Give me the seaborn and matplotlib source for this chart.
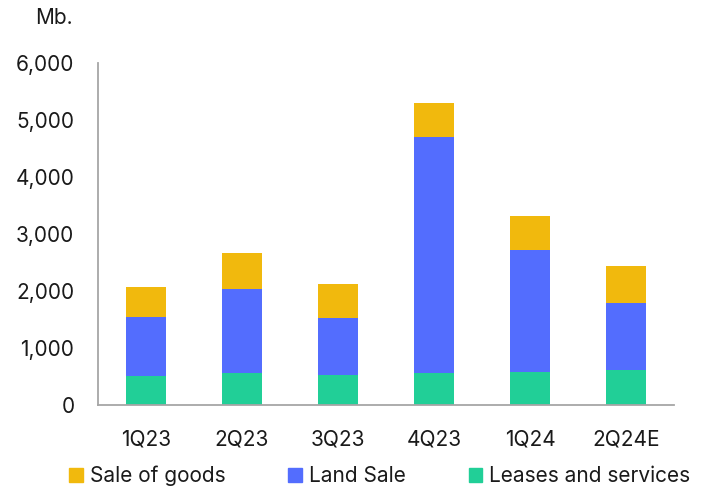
import numpy as np
import pandas as pd
import matplotlib
matplotlib.use("Agg")
import matplotlib.pyplot as plt
import seaborn as sns
from matplotlib.patches import Patch

quarters = ["1Q23", "2Q23", "3Q23", "4Q23", "1Q24", "2Q24E"]
leases_services = [500, 560, 525, 560, 585, 610]
land_sale = [1045, 1465, 1005, 4135, 2125, 1180]
sale_of_goods = [520, 635, 590, 590, 600, 640]

yticks = [0, 1000, 2000, 3000, 4000, 5000, 6000]

c_goods = "#F1B90D"
c_land = "#536DFE"
c_leases = "#21CF97"

sns.set_theme(style="white")
plt.rcParams["font.family"] = ["Inter", "DejaVu Sans"]

df = pd.DataFrame({
    "quarter": quarters,
    "leases": leases_services,
    "land": land_sale,
    "goods": sale_of_goods,
})
df["top_land"] = df["leases"] + df["land"]
df["top_goods"] = df["top_land"] + df["goods"]

fig = plt.figure(figsize=(7.03, 4.91), dpi=100)
ax = fig.add_axes([0.1394, 0.1752, 0.8193, 0.6975])

# stack by drawing cumulative totals back to front
for col, color in [("top_goods", c_goods), ("top_land", c_land), ("leases", c_leases)]:
    sns.barplot(data=df, x="quarter", y=col, color=color, width=0.41,
                linewidth=0, saturation=1, ax=ax, order=quarters)

ax.set_ylim(0, 6000)
ax.set_xlim(-0.5, len(quarters) - 0.5)
ax.set_yticks(yticks)
ax.set_yticklabels([f"{v:,}" for v in yticks])
ax.set_xlabel("")
ax.set_ylabel("")
ax.tick_params(axis="y", length=0, pad=17, labelsize=15, colors="#1a1a1a")
ax.tick_params(axis="x", length=0, pad=18, labelsize=15, colors="#1a1a1a")

for side in ["top", "right"]:
    ax.spines[side].set_visible(False)
for side in ["left", "bottom"]:
    ax.spines[side].set_color("#a6a6a6")
    ax.spines[side].set_linewidth(1.3)

fig.text(73 / 703, 1 - 18 / 491, "Mb.", ha="right", va="center",
         fontsize=15, color="#1a1a1a")

handles = [Patch(color=c_goods), Patch(color=c_land), Patch(color=c_leases)]
labels = ["Sale of goods", "Land Sale", "Leases and services"]
fig.legend(handles, labels, loc="center", ncol=3, frameon=False,
           bbox_to_anchor=(380 / 703, 1 - 476 / 491), fontsize=15,
           handlelength=0.65, handleheight=0.65, handletextpad=0.35,
           columnspacing=3.0, labelcolor="#1a1a1a")

fig.savefig("out.png", dpi=100)
